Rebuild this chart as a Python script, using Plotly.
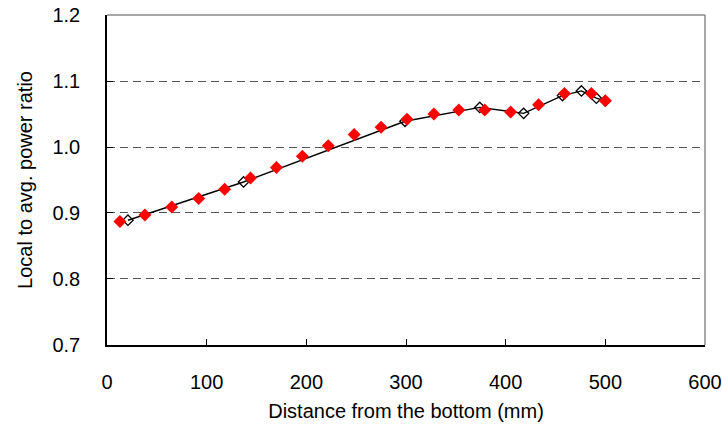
import plotly.graph_objects as go

# Open black diamonds (with line)
line_x = [21, 137, 299, 374, 418, 457, 476, 491, 500]
line_y = [0.889, 0.947, 1.039, 1.060, 1.051, 1.078, 1.085, 1.074, 1.070]

# Red filled diamonds
red_x = [13, 38, 65, 92, 118, 144, 170, 196, 222, 248, 275, 301, 328, 353, 379, 405, 433, 459, 486, 500]
red_y = [0.887, 0.897, 0.909, 0.922, 0.936, 0.953, 0.969, 0.986, 1.002, 1.019, 1.030, 1.042,
         1.050, 1.056, 1.056, 1.053, 1.064, 1.081, 1.081, 1.070]

x_ticks = [0, 100, 200, 300, 400, 500, 600]
y_ticks = [0.7, 0.8, 0.9, 1.0, 1.1, 1.2]
y_labels = ["0.7", "0.8", "0.9", "1.0", "1.1", "1.2"]

FONT = "Liberation Sans, Arial, sans-serif"

fig = go.Figure()
fig.add_trace(go.Scatter(
    x=line_x, y=line_y, mode="lines+markers",
    line=dict(color="black", width=1.4),
    marker=dict(symbol="diamond-open", size=8, color="black", line=dict(width=1.3, color="black")),
    showlegend=False, cliponaxis=False))
fig.add_trace(go.Scatter(
    x=red_x, y=red_y, mode="markers",
    marker=dict(symbol="diamond", size=10, color="#ff0000", line=dict(width=0)),
    showlegend=False, cliponaxis=False))

fig.update_layout(
    width=722, height=433,
    margin=dict(l=107, r=17, t=15, b=88),
    paper_bgcolor="white", plot_bgcolor="white",
    font=dict(family=FONT, size=20, color="black"),
    xaxis=dict(
        range=[0, 600], tickvals=x_ticks, ticks="inside", ticklen=6, tickcolor="black",
        showgrid=False, zeroline=False, showline=True, linecolor="black", linewidth=1.5,
        automargin=False, ticklabelstandoff=18, ticklabeloverflow="allow",
        title=dict(text="Distance from the bottom (mm)", standoff=12, font=dict(size=20)),
        tickfont=dict(size=20),
    ),
    yaxis=dict(
        range=[0.6999, 1.2001], tickvals=y_ticks, ticktext=y_labels, ticks="inside", ticklen=6, tickcolor="black",
        showgrid=True, gridcolor="#555555", griddash="8px,5px", gridwidth=1,
        zeroline=False, showline=True, linecolor="black", linewidth=1.5,
        automargin=False, ticklabelstandoff=21, ticklabeloverflow="allow",
        title=dict(text="Local to avg. power ratio", standoff=14, font=dict(size=20)),
        tickfont=dict(size=20),
    ),
    shapes=[
        dict(type="line", xref="paper", yref="paper", x0=0, x1=1, y0=1, y1=1, layer="above",
             line=dict(color="#888888", width=1.5)),
        dict(type="line", xref="paper", yref="paper", x0=1, x1=1, y0=0, y1=1, layer="above",
             line=dict(color="#888888", width=1.5)),
    ],
)

fig.write_html("out.html", config={"displayModeBar": False},
               post_script="document.body.style.margin='0';")
